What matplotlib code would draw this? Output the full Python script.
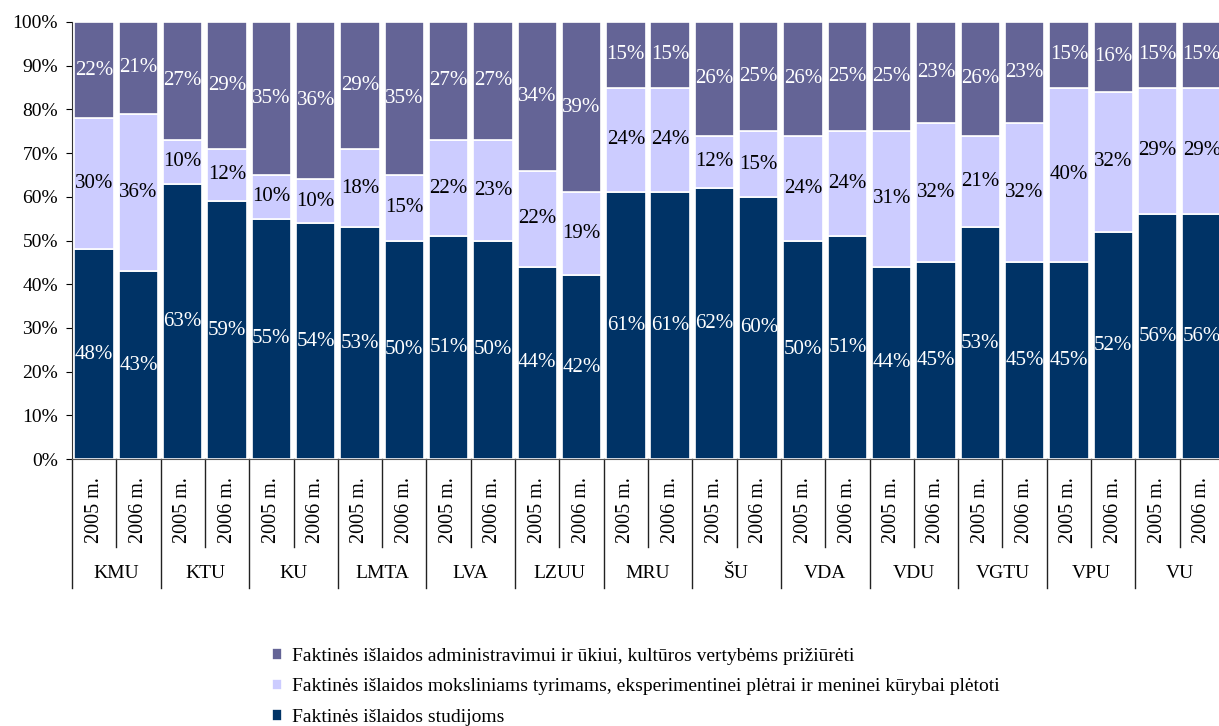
import numpy as np
import matplotlib
matplotlib.use("Agg")
import matplotlib.pyplot as plt

plt.rcParams['font.family'] = ['Liberation Serif', 'DejaVu Serif']

# Duomenys
universities = ['KMU', 'KTU', 'KU', 'LMTA', 'LVA', 'LZUU', 'MRU',
                'ŠU', 'VDA', 'VDU', 'VGTU', 'VPU', 'VU']
years = ['2005 m.', '2006 m.']

studies = [48, 43, 63, 59, 55, 54, 53, 50, 51, 50, 44, 42, 61,
           61, 62, 60, 50, 51, 44, 45, 53, 45, 45, 52, 56, 56]
research = [30, 36, 10, 12, 10, 10, 18, 15, 22, 23, 22, 19, 24,
            24, 12, 15, 24, 24, 31, 32, 21, 32, 40, 32, 29, 29]
admin = [22, 21, 27, 29, 35, 36, 29, 35, 27, 27, 34, 39, 15,
         15, 26, 25, 26, 25, 25, 23, 26, 23, 15, 16, 15, 15]

labels = ['Faktinės išlaidos studijoms',
          'Faktinės išlaidos moksliniams tyrimams, eksperimentinei plėtrai ir meninei kūrybai plėtoti',
          'Faktinės išlaidos administravimui ir ūkiui, kultūros vertybėms prižiūrėti']
colors = ['#003366', '#CCCCFF', '#646496']
text_colors = ['white', 'black', 'white']

fig = plt.figure(figsize=(12.19, 7.26), dpi=100)
ax = fig.add_axes([72 / 1219, 267 / 726, 1152 / 1219, 437 / 726])

x = np.arange(len(studies))
bottom = np.zeros(len(studies))
bars = []
for vals, col, tcol, lab in zip([studies, research, admin], colors, text_colors, labels):
    vals = np.array(vals, dtype=float)
    b = ax.bar(x, vals, 0.89, bottom=bottom, color=col, edgecolor='white',
               linewidth=1.2, label=lab)
    bars.append(b)
    for xi, v, b0 in zip(x, vals, bottom):
        ax.text(xi, b0 + v / 2, f'{int(v)}%', ha='center', va='center',
                color=tcol, fontsize=15)
    bottom += vals

ax.set_xlim(-0.5, len(studies) - 0.5)
ax.set_ylim(0, 100)
ax.set_yticks(np.arange(0, 101, 10))
ax.set_yticklabels([f'{v}%' for v in range(0, 101, 10)], fontsize=14)
ax.tick_params(axis='y', length=4, pad=6, direction='out')
ax.set_xticks([])
for s in ['top', 'right']:
    ax.spines[s].set_visible(False)
ax.spines['left'].set_color('#333333')
ax.spines['bottom'].set_color('#555555')

# Kategorijų ašis: metai ir universitetai
trans = ax.get_xaxis_transform()
for i in range(len(studies)):
    ax.text(i, -0.042, years[i % 2], rotation=90, ha='center', va='top',
            fontsize=14.5, transform=trans)
for i in range(len(studies) + 1):
    xb = i - 0.5
    y_end = -0.295 if i % 2 == 0 else -0.201
    ax.plot([xb, xb], [0, y_end], color='#222222', lw=1,
            transform=trans, clip_on=False)
for g, name in enumerate(universities):
    ax.text(2 * g + 0.5, -0.261, name, ha='center', va='center',
            fontsize=14, transform=trans)

handles = bars[::-1]
fig.legend(handles, [h.get_label() for h in handles], loc='upper left',
           bbox_to_anchor=(262 / 1219, 1 - 638 / 726), frameon=False,
           fontsize=14, handlelength=0.55, handleheight=0.55,
           handletextpad=0.5, labelspacing=0.7, borderpad=0)

fig.savefig('out.png', dpi=100)
